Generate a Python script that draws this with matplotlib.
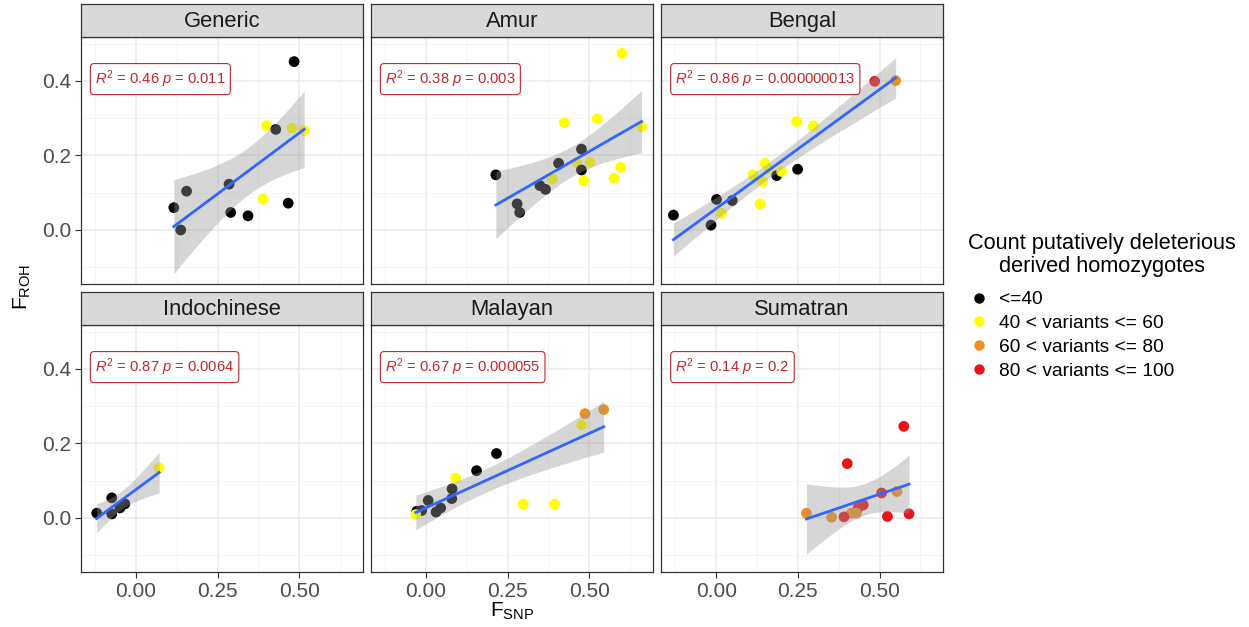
import numpy as np
import matplotlib.pyplot as plt
from matplotlib.lines import Line2D

plt.rcParams['font.family'] = ['Liberation Sans', 'DejaVu Sans']
plt.rcParams['mathtext.fontset'] = 'custom'
plt.rcParams['mathtext.rm'] = 'Liberation Sans'
plt.rcParams['mathtext.it'] = 'Liberation Sans:italic'

# ---- data ----
panels = ['Generic', 'Amur', 'Bengal', 'Indochinese', 'Malayan', 'Sumatran']
cor_labels = ['0.46 $p$ = 0.011', '0.38 $p$ = 0.003', '0.86 $p$ = 0.000000013',
              '0.87 $p$ = 0.0064', '0.67 $p$ = 0.000055', '0.14 $p$ = 0.2']

categories = ['<=40', '40 < variants <= 60', '60 < variants <= 80', '80 < variants <= 100']
cat_colors = ['#000000', '#FFFF00', '#EE8F1E', '#E8141C']

generic_fsnp = [0.484, 0.400, 0.428, 0.478, 0.515, 0.285, 0.155, 0.116, 0.137, 0.290, 0.343, 0.389, 0.466]
generic_froh = [0.452, 0.280, 0.270, 0.273, 0.267, 0.123, 0.104, 0.060, 0.000, 0.047, 0.038, 0.083, 0.072]
generic_cat = [0, 1, 0, 1, 1, 0, 0, 0, 0, 0, 0, 1, 0]

amur_fsnp = [0.600, 0.424, 0.524, 0.660, 0.476, 0.406, 0.461, 0.502, 0.476, 0.596, 0.576, 0.483, 0.387,
             0.214, 0.349, 0.366, 0.279, 0.287]
amur_froh = [0.474, 0.288, 0.298, 0.277, 0.217, 0.179, 0.182, 0.182, 0.161, 0.168, 0.139, 0.132, 0.137,
             0.148, 0.119, 0.109, 0.070, 0.047]
amur_cat = [1, 1, 1, 1, 0, 0, 1, 1, 0, 1, 1, 1, 1, 0, 0, 0, 0, 0]

bengal_fsnp = [0.485, 0.549, 0.246, 0.297, 0.149, 0.113, 0.142, 0.185, 0.200, 0.249, 0.134, 0.001,
               0.049, 0.016, -0.016, -0.131, 0.160]
bengal_froh = [0.399, 0.401, 0.291, 0.279, 0.179, 0.148, 0.130, 0.146, 0.157, 0.163, 0.070, 0.082,
               0.079, 0.045, 0.013, 0.040, 0.165]
bengal_cat = [3, 2, 1, 1, 1, 1, 1, 0, 1, 0, 1, 0, 0, 1, 0, 0, 1]

indo_fsnp = [0.071, -0.120, -0.074, -0.074, -0.034, -0.049]
indo_froh = [0.134, 0.013, 0.054, 0.011, 0.038, 0.027]
indo_cat = [1, 0, 0, 0, 0, 0]

malayan_fsnp = [0.544, 0.487, 0.477, 0.216, 0.155, 0.091, 0.080, 0.079, 0.007, 0.298, 0.394, 0.045,
                0.031, -0.028, -0.013, -0.031]
malayan_froh = [0.291, 0.280, 0.250, 0.173, 0.127, 0.107, 0.078, 0.052, 0.047, 0.037, 0.037, 0.027,
                0.016, 0.018, 0.020, 0.009]
malayan_cat = [2, 2, 1, 0, 0, 1, 0, 0, 0, 1, 1, 0, 0, 0, 0, 1]

sumatran_fsnp = [0.574, 0.401, 0.506, 0.553, 0.450, 0.434, 0.429, 0.414, 0.391, 0.353, 0.276, 0.524, 0.590]
sumatran_froh = [0.246, 0.146, 0.067, 0.071, 0.035, 0.027, 0.013, 0.013, 0.003, 0.002, 0.013, 0.004, 0.011]
sumatran_cat = [3, 3, 3, 2, 3, 3, 2, 2, 3, 2, 2, 3, 3]

all_x = [generic_fsnp, amur_fsnp, bengal_fsnp, indo_fsnp, malayan_fsnp, sumatran_fsnp]
all_y = [generic_froh, amur_froh, bengal_froh, indo_froh, malayan_froh, sumatran_froh]
all_c = [generic_cat, amur_cat, bengal_cat, indo_cat, malayan_cat, sumatran_cat]


def t975(df):
    # Cornish-Fisher approximation of the t quantile
    z = 1.959964
    return (z + (z**3 + z) / (4 * df) + (5 * z**5 + 16 * z**3 + 3 * z) / (96 * df**2)
            + (3 * z**7 + 19 * z**5 + 17 * z**3 - 15 * z) / (384 * df**3))


def lm_band(x, y):
    x = np.asarray(x); y = np.asarray(y)
    n = len(x)
    b, a = np.polyfit(x, y, 1)
    xs = np.linspace(x.min(), x.max(), 80)
    fit = a + b * xs
    resid = y - (a + b * x)
    s = np.sqrt(np.sum(resid**2) / (n - 2))
    se = s * np.sqrt(1 / n + (xs - x.mean())**2 / np.sum((x - x.mean())**2))
    t = t975(n - 2)
    return xs, fit, fit - t * se, fit + t * se


W, H = 1249, 627
fig = plt.figure(figsize=(W / 100, H / 100), dpi=100)

col_left = [80.7, 370.7, 661.0]
row_top = [37.0, 325.0]
pw, ph, sh = 282.0, 247.0, 33.0
edge = '#333333'

for i, name in enumerate(panels):
    r, c = divmod(i, 3)
    l = col_left[c] / W
    b = 1 - (row_top[r] + ph) / H
    ax = fig.add_axes([l, b, pw / W, ph / H])
    ax.set_xlim(-0.169, 0.694)
    ax.set_ylim(-0.145, 0.518)
    ax.set_xticks([0.0, 0.25, 0.5])
    ax.set_xticks([-0.125, 0.125, 0.375, 0.625], minor=True)
    ax.set_yticks([0.0, 0.2, 0.4])
    ax.set_yticks([-0.1, 0.1, 0.3, 0.5], minor=True)
    ax.set_xticklabels(['0.00', '0.25', '0.50'])
    ax.set_yticklabels(['0.0', '0.2', '0.4'])
    ax.grid(True, which='major', color='#EBEBEB', lw=1.1)
    ax.grid(True, which='minor', color='#F2F2F2', lw=0.6)
    ax.set_axisbelow(True)
    ax.tick_params(which='minor', length=0)
    ax.tick_params(which='major', length=4, color=edge, labelsize=15, labelcolor='#4D4D4D', pad=3)
    if c != 0:
        ax.tick_params(axis='y', labelleft=False, length=0)
    if r == 0:
        ax.tick_params(axis='x', labelbottom=False, length=0)
    for sp in ax.spines.values():
        sp.set_color(edge)
        sp.set_linewidth(0.9)

    x = np.array(all_x[i]); y = np.array(all_y[i])
    cols = [cat_colors[k] for k in all_c[i]]
    ax.scatter(x, y, s=60, c=cols, linewidths=0, zorder=2)
    xs, fit, lo, hi = lm_band(x, y)
    ax.fill_between(xs, lo, hi, color='#999999', alpha=0.4, lw=0, zorder=3)
    ax.plot(xs, fit, color='#3366FF', lw=2.0, zorder=4)

    ax.text(-0.125, 0.405, r'$R^2$ = ' + cor_labels[i], fontsize=10.6, color='#C0272D',
            ha='left', va='center', zorder=5,
            bbox=dict(boxstyle='round,pad=0.32,rounding_size=0.25', fc='white', ec='#C0272D', lw=0.8))

    sax = fig.add_axes([l, b + ph / H, pw / W, sh / H])
    sax.set_facecolor('#D9D9D9')
    sax.set_xticks([]); sax.set_yticks([])
    for sp in sax.spines.values():
        sp.set_color(edge)
        sp.set_linewidth(0.9)
    sax.text(0.5, 0.48, name, ha='center', va='center', fontsize=15.8, color='#1A1A1A',
             transform=sax.transAxes)

fig.text(511.7 / W, 1 - 611 / H, r'F$_{\mathrm{SNP}}$', ha='center', va='center', fontsize=15)
fig.text(22 / W, 1 - 287 / H, r'F$_{\mathrm{ROH}}$', ha='center', va='center', fontsize=15, rotation=90)

# legend: title as centred two-line text, entries below
fig.text(1102 / W, 1 - 255 / H, 'Count putatively deleterious\nderived homozygotes',
         ha='center', va='center', fontsize=15.7, linespacing=1.1, multialignment='center')
handles = [Line2D([], [], ls='', marker='o', ms=7.5, mfc=cc, mec='none') for cc in cat_colors]
leg = fig.legend(handles, categories, loc='upper left', bbox_to_anchor=(967 / W, 1 - 291 / H),
                 frameon=False, fontsize=13.8, handletextpad=0.45, labelspacing=0.33,
                 borderaxespad=0, borderpad=0, handlelength=1.2)

fig.savefig('out.png', dpi=100)
